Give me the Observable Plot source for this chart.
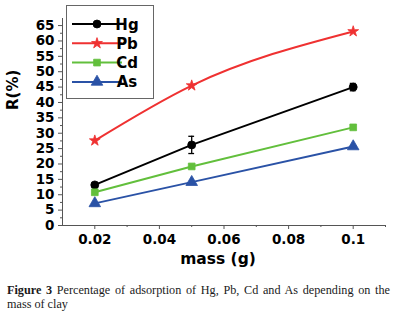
<!DOCTYPE html>
<html><head><meta charset="utf-8">
<script src="https://cdn.jsdelivr.net/npm/d3@7"></script>
<script src="https://cdn.jsdelivr.net/npm/@observablehq/plot@0.6"></script>
<style>
body{margin:0;background:#fff;}
#cap{font-family:"Liberation Serif",serif;font-size:12.2px;line-height:14.2px;margin:8px 16px 0 7px;text-align:justify;color:#1a1a1a}
</style></head><body><div id="chart"></div><div id="cap"><b>Figure 3</b><span> Percentage of adsorption of Hg, Pb, Cd and As depending on the mass of clay</span></div>
<script>
const masses = [0.02, 0.05, 0.1];
const seriesNames = ["Hg", "Pb", "Cd", "As"];
const Hg = [13.2, 26.2, 45.0];
const Pb = [27.6, 45.5, 63.1];
const Cd = [10.8, 19.2, 31.9];
const As = [7.2, 14.1, 25.7];
const HgErr = [0.6, 2.8, 1.2];
const xTicks = [0.02, 0.04, 0.06, 0.08, 0.1];
const xMinor = [0.03, 0.05, 0.07, 0.09, 0.11];
const yTicks = d3.range(0, 66, 5);
const yMinor = d3.range(2.5, 65, 5);
const colors = {Hg: "#000000", Pb: "#ef3131", Cd: "#62bf3c", As: "#2a52a6"};
const symbols = {Hg: "circle", Pb: "star", Cd: "square", As: "triangle"};
const radii = {Hg: 4, Pb: 3.4, Cd: 3.8, As: 4.3};
const values = {Hg, Pb, Cd, As};

const rows = seriesNames.flatMap(s => masses.map((m, i) => ({series: s, mass: m, R: values[s][i]})));
const errRows = masses.map((m, i) => ({mass: m, lo: Hg[i] - HgErr[i], hi: Hg[i] + HgErr[i]}));

const font = "DejaVu Sans";
const plot = Plot.plot({
  width: 406, height: 275,
  marginLeft: 62, marginRight: 21, marginTop: 18, marginBottom: 50,
  style: {fontFamily: font, fontSize: "13.5px", fontWeight: "bold", color: "#000", background: "#fff"},
  x: {domain: [0.01, 0.11]},
  y: {domain: [0, 67.3]},
  marks: [
    Plot.ruleY([0], {stroke: "#555", strokeWidth: 1}),
    Plot.ruleX([0.01], {stroke: "#555", strokeWidth: 1}),
    Plot.axisY({ticks: yTicks, tickSize: 4, tickPadding: 4, label: null, stroke: "#555"}),
    Plot.axisY({ticks: yMinor, tickSize: 2, text: null, label: null, stroke: "#555"}),
    Plot.axisX({ticks: xTicks, tickSize: 4, tickPadding: 5, label: null, stroke: "#555",
      tickFormat: d => d === 0.1 ? "0.1" : d.toFixed(2)}),
    Plot.axisX({ticks: xMinor, tickSize: 2, text: null, label: null, stroke: "#555"}),
    ...seriesNames.map(s => Plot.line(rows.filter(r => r.series === s), {
      x: "mass", y: "R", stroke: colors[s], strokeWidth: 2,
      curve: s === "Pb" ? "monotone-x" : "linear"})),
    Plot.ruleX(errRows, {x: "mass", y1: "lo", y2: "hi", stroke: "#000", strokeWidth: 1.3}),
    Plot.ruleY(errRows, {y: "lo", x1: d => d.mass - 0.0009, x2: d => d.mass + 0.0009, stroke: "#000", strokeWidth: 1.3}),
    Plot.ruleY(errRows, {y: "hi", x1: d => d.mass - 0.0009, x2: d => d.mass + 0.0009, stroke: "#000", strokeWidth: 1.3}),
    ...seriesNames.map(s => Plot.dot(rows.filter(r => r.series === s), {
      x: "mass", y: "R", fill: colors[s], stroke: colors[s], strokeWidth: 0.8,
      symbol: symbols[s], r: radii[s]})),
    Plot.text(["mass (g)"], {frameAnchor: "bottom", dy: 38, text: d => d, fontSize: 15.5, fontWeight: "bold", dx: -6}),
    Plot.text(["R(%)"], {frameAnchor: "left", dx: -49, dy: -12, rotate: -90, text: d => d, fontSize: 15, fontWeight: "bold"})
  ]
});
document.getElementById("chart").appendChild(plot);

// legend box inside the plot, top-left
const svg = d3.select(plot);
const lg = svg.append("g").attr("font-family", font).attr("font-weight", "bold").attr("font-size", 15);
lg.append("rect").attr("x", 66.5).attr("y", 5.5).attr("width", 87).attr("height", 93)
  .attr("fill", "#fff").attr("stroke", "#666").attr("stroke-width", 1);
const symMap = {circle: d3.symbolCircle, star: d3.symbolStar, square: d3.symbolSquare, triangle: d3.symbolTriangle};
seriesNames.forEach((s, i) => {
  const y = 24 + i * 19.3;
  lg.append("line").attr("x1", 72).attr("x2", 122).attr("y1", y).attr("y2", y)
    .attr("stroke", colors[s]).attr("stroke-width", 2);
  lg.append("path").attr("transform", `translate(97,${y})`)
    .attr("d", d3.symbol(symMap[symbols[s]], Math.PI * radii[s] * radii[s])())
    .attr("fill", colors[s]).attr("stroke", colors[s]).attr("stroke-width", 0.8);
  lg.append("text").attr("x", 127).attr("y", y + 5.5).attr("fill", "#000").text(s);
});
</script></body></html>
